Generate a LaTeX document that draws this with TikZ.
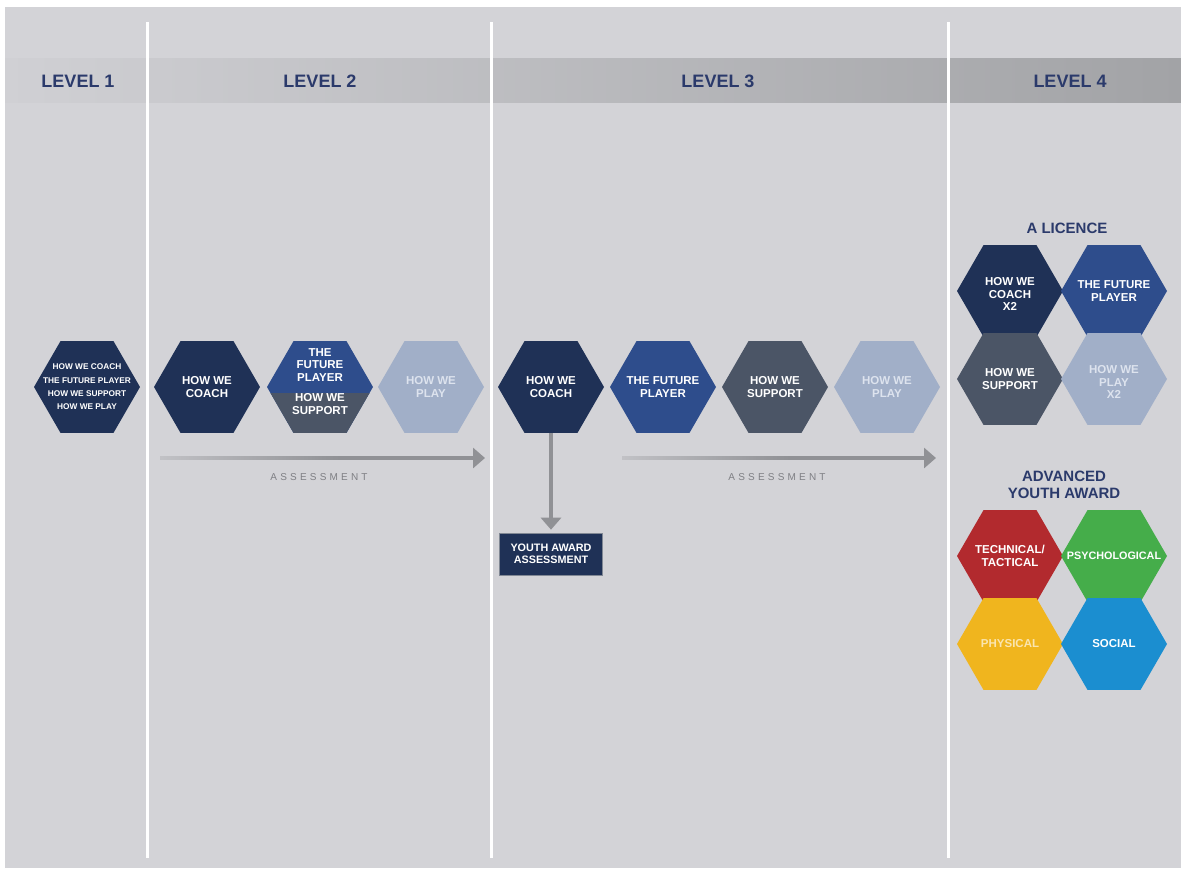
\documentclass[tikz,border=0pt]{standalone}
\usepackage{fontspec}
\setmainfont{Liberation Sans}
\newfontfamily\spacedfont[LetterSpace=32]{Liberation Sans}
\usetikzlibrary{
  shapes.geometric
  , arrows.meta
  , fadings
}

\definecolor{BgGray}{HTML}{D3D3D7}
\definecolor{BandLeft}{HTML}{D0D0D4}
\definecolor{BandRight}{HTML}{A2A3A6}
\definecolor{HeadBlue}{HTML}{2B3A6B}
\definecolor{Navy}{HTML}{1F3156}
\definecolor{FutBlue}{HTML}{2E4D8C}
\definecolor{Slate}{HTML}{4B5566}
\definecolor{PaleBlue}{HTML}{A1AFC8}
\definecolor{PaleText}{HTML}{DDE3EE}
\definecolor{TechRed}{HTML}{B22A2E}
\definecolor{PsyGreen}{HTML}{45AD4A}
\definecolor{PhysYellow}{HTML}{F0B51E}
\definecolor{SocBlue}{HTML}{1B8ED0}
\definecolor{ArrowGray}{HTML}{909195}
\definecolor{LabelGray}{HTML}{7E7F84}

\tikzset{
  hexa/.style={regular polygon, regular polygon sides=6,
    minimum size=106pt, inner sep=0pt, draw=none},
  hextxt/.style={text=white, align=center,
    font=\fontsize{11.5}{12.5}\selectfont\bfseries},
  levelhead/.style={text=HeadBlue, font=\fontsize{18}{20}\selectfont\bfseries},
  grouphead/.style={text=HeadBlue, align=center,
    font=\fontsize{15}{17}\selectfont\bfseries},
  assess/.style={-{Triangle[length=12pt, width=20pt]},
    draw=ArrowGray, line width=4pt},
  assesstxt/.style={text=LabelGray, font=\spacedfont\fontsize{10}{12}\selectfont},
  divider/.style={draw=white, line width=3pt}
}

\begin{document}
\begin{tikzpicture}[x=1pt, y=-1pt]
  \useasboundingbox (0,0) rectangle (1181,868);
  \fill[white] (0,0) rectangle (1181,868);
  \fill[BgGray] (5,7) rectangle (1181,868);

  % header band
  \shade[left color=BandLeft, right color=BandRight] (5,58) rectangle (1181,102);
  \foreach \x in {147,491,948}
    \draw[divider] (\x,22) -- (\x,858);

  \node[levelhead] (lvlA) at (78,81) {LEVEL 1};
  \node[levelhead] (lvlB) at (320,81) {LEVEL 2};
  \node[levelhead] (lvlC) at (718,81) {LEVEL 3};
  \node[levelhead] (lvlD) at (1070,81) {LEVEL 4};

  % level 1
  \node[hexa, fill=Navy,
    label={[hextxt, font=\fontsize{8.3}{13.3}\selectfont\bfseries]center:{HOW WE COACH\\THE FUTURE PLAYER\\HOW WE SUPPORT\\HOW WE PLAY}}
  ] (allA) at (87,387) {};

  % level 2
  \node[hexa, fill=Navy, label={[hextxt]center:{HOW WE\\COACH}}] (coachB) at (207,387) {};
  \node[hexa, fill=FutBlue,
    path picture={\fill[Slate] ([yshift=-6pt]path picture bounding box.west)
      rectangle (path picture bounding box.south east);}
  ] (splitB) at (320,387) {};
  \node[hextxt] (futB) at ([yshift=22pt]splitB.center) {THE\\FUTURE\\PLAYER};
  \node[hextxt] (supB) at ([yshift=-17pt]splitB.center) {HOW WE\\SUPPORT};
  \node[hexa, fill=PaleBlue, label={[hextxt, text=PaleText]center:{HOW WE\\PLAY}}] (playB) at (431,387) {};

  \coordinate (asBstart) at (160,458);
  \coordinate (asBend) at (485,458);
  \draw[assess] (asBstart) -- (asBend);
  \fill[BgGray, path fading=east, fill opacity=0.75] (158,455) rectangle (340,461);
  \node[assesstxt] (asBtxt) at (319,477) {ASSESSMENT};

  % level 3
  \node[hexa, fill=Navy, label={[hextxt]center:{HOW WE\\COACH}}] (coachC) at (551,387) {};
  \node[hexa, fill=FutBlue, label={[hextxt]center:{THE FUTURE\\PLAYER}}] (futC) at (663,387) {};
  \node[hexa, fill=Slate, label={[hextxt]center:{HOW WE\\SUPPORT}}] (supC) at (775,387) {};
  \node[hexa, fill=PaleBlue, label={[hextxt, text=PaleText]center:{HOW WE\\PLAY}}] (playC) at (887,387) {};

  \coordinate (asCstart) at (622,458);
  \coordinate (asCend) at (936,458);
  \draw[assess] (asCstart) -- (asCend);
  \fill[BgGray, path fading=east, fill opacity=0.75] (620,455) rectangle (790,461);
  \node[assesstxt] (asCtxt) at (777,477) {ASSESSMENT};

  \node[fill=Navy, draw=Slate!70!white, line width=0.6pt,
    minimum width=103pt, minimum height=42pt, inner sep=0pt,
    text=white, align=center, font=\fontsize{10.8}{12.5}\selectfont\bfseries
  ] (youth) at (551,554) {YOUTH AWARD\\ASSESSMENT};
  \draw[assess] (coachC.south) -- ([yshift=3pt]youth.north);

  % level 4
  \node[grouphead] (licence) at (1067,228) {A LICENCE};
  \node[hexa, fill=Navy, label={[hextxt, yshift=-3pt]center:{HOW WE\\COACH\\X2}}] (coachD) at (1010,291) {};
  \node[hexa, fill=FutBlue, label={[hextxt]center:{THE FUTURE\\PLAYER}}] (futD) at (1114,291) {};
  \node[hexa, fill=Slate, label={[hextxt]center:{HOW WE\\SUPPORT}}] (supD) at (1010,379) {};
  \node[hexa, fill=PaleBlue, label={[hextxt, text=PaleText, yshift=-3pt]center:{HOW WE\\PLAY\\X2}}] (playD) at (1114,379) {};

  \node[grouphead] (advanced) at (1064,485) {ADVANCED\\YOUTH AWARD};
  \node[hexa, fill=TechRed, label={[hextxt]center:{TECHNICAL/\\TACTICAL}}] (tech) at (1010,556) {};
  \node[hexa, fill=PsyGreen, label={[hextxt, font=\fontsize{10.8}{12.5}\selectfont\bfseries]center:{PSYCHOLOGICAL}}] (psych) at (1114,556) {};
  \node[hexa, fill=PhysYellow, label={[hextxt, text=PhysYellow!35!white]center:{PHYSICAL}}] (phys) at (1010,644) {};
  \node[hexa, fill=SocBlue, label={[hextxt]center:{SOCIAL}}] (social) at (1114,644) {};
\end{tikzpicture}
\end{document}
